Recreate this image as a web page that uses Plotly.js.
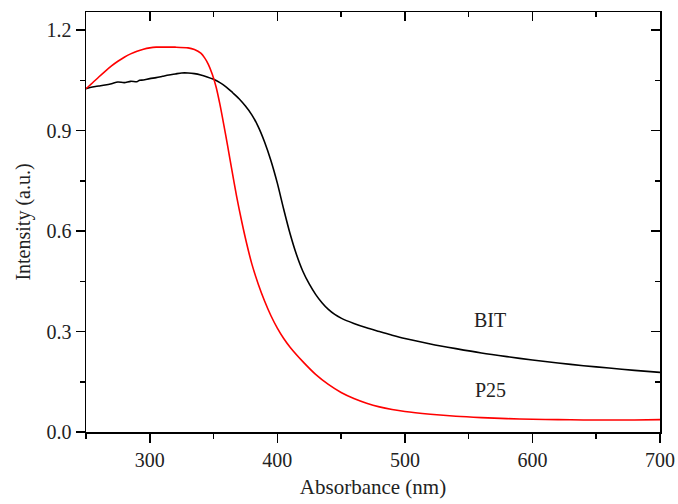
<!DOCTYPE html>
<html>
<head>
<meta charset="utf-8">
<script src="https://cdn.plot.ly/plotly-3.0.1.min.js"></script>
<style>html,body{margin:0;padding:0;background:#fff;}#chart{width:678px;height:504px;}</style>
</head>
<body>
<div id="chart"></div>
<script>
// BIT sample (black)
var bitX = [250,255,260,265,270,275,280,285,290,292,295,300,305,310,315,320,325,330,335,340,345,350,355,360,365,370,375,380,385,390,395,400,405,410,415,420,425,430,435,440,445,450,460,470,480,490,500,520,540,560,580,600,620,640,660,680,700];
var bitY = [1.025,1.030,1.033,1.036,1.040,1.045,1.043,1.047,1.046,1.050,1.051,1.055,1.058,1.062,1.066,1.069,1.072,1.072,1.070,1.066,1.060,1.053,1.043,1.030,1.013,0.995,0.973,0.947,0.912,0.866,0.810,0.743,0.665,0.592,0.530,0.480,0.442,0.411,0.386,0.366,0.351,0.340,0.324,0.311,0.300,0.289,0.279,0.263,0.249,0.236,0.225,0.215,0.206,0.198,0.191,0.184,0.178];

// P25 sample (red)
var p25X = [250,255,260,265,270,275,280,285,290,295,300,305,310,320,330,335,340,343,346,349,352,355,358,361,364,368,372,376,380,385,390,395,400,405,410,420,430,440,450,460,470,480,490,500,520,540,560,580,600,620,640,660,680,700];
var p25Y = [1.025,1.042,1.060,1.077,1.093,1.107,1.119,1.129,1.137,1.143,1.147,1.149,1.149,1.149,1.147,1.142,1.131,1.117,1.097,1.068,1.030,0.978,0.918,0.855,0.790,0.705,0.630,0.562,0.502,0.442,0.391,0.347,0.310,0.279,0.253,0.210,0.172,0.142,0.118,0.100,0.086,0.075,0.067,0.061,0.053,0.047,0.043,0.040,0.038,0.037,0.036,0.036,0.036,0.037];

var labels = [
  {text: 'BIT', x: 567, y: 0.335},
  {text: 'P25', x: 567, y: 0.125}
];

var fontFam = '"Liberation Serif", "Times New Roman", serif';
var xRange = [250, 700];
var yRange = [0, 1.254];

var traces = [
  {x: bitX, y: bitY, type: 'scatter', mode: 'lines', name: 'BIT',
   line: {color: '#000000', width: 1.6, shape: 'spline', smoothing: 0.8}, hoverinfo: 'x+y'},
  {x: p25X, y: p25Y, type: 'scatter', mode: 'lines', name: 'P25',
   line: {color: '#ff0000', width: 1.6, shape: 'spline', smoothing: 0.8}, hoverinfo: 'x+y'},
  {x: [null], y: [null], xaxis: 'x2', yaxis: 'y2', type: 'scatter', mode: 'lines',
   showlegend: false, hoverinfo: 'skip'}
];

var axCommon = {
  showgrid: false, zeroline: false, showline: true,
  linecolor: '#000', linewidth: 1.5,
  tickcolor: '#000', tickwidth: 1.5, ticklen: 9,
  tickfont: {family: fontFam, size: 20, color: '#222'}
};

var layout = {
  width: 678, height: 504,
  margin: {l: 86, r: 18, t: 12, b: 72},
  paper_bgcolor: '#fff', plot_bgcolor: '#fff',
  showlegend: false,
  xaxis: Object.assign({}, axCommon, {
    range: xRange, ticks: 'outside', dtick: 100, tick0: 300,
    minor: {dtick: 50, tick0: 250, ticklen: 5, tickcolor: '#000', tickwidth: 1.5, ticks: 'outside'},
    title: {text: 'Absorbance (nm)', font: {family: fontFam, size: 21, color: '#222'}, standoff: 10}
  }),
  yaxis: Object.assign({}, axCommon, {
    range: yRange, ticks: 'outside', dtick: 0.3, tick0: 0, tickformat: '.1f',
    minor: {dtick: 0.15, tick0: 0, ticklen: 5, tickcolor: '#000', tickwidth: 1.5, ticks: 'outside'},
    title: {text: 'Intensity (a.u.)', font: {family: fontFam, size: 20, color: '#222'}, standoff: 10}
  }),
  xaxis2: Object.assign({}, axCommon, {
    range: xRange, overlaying: 'x', side: 'top', ticks: 'inside', dtick: 100, tick0: 300,
    showticklabels: false,
    minor: {dtick: 50, tick0: 250, ticklen: 5, tickcolor: '#000', tickwidth: 1.5, ticks: 'inside'}
  }),
  yaxis2: Object.assign({}, axCommon, {
    range: yRange, overlaying: 'y', side: 'right', ticks: 'inside', dtick: 0.3, tick0: 0,
    showticklabels: false,
    minor: {dtick: 0.15, tick0: 0, ticklen: 5, tickcolor: '#000', tickwidth: 1.5, ticks: 'inside'}
  }),
  annotations: labels.map(function (l) {
    return {text: l.text, x: l.x, y: l.y, xref: 'x', yref: 'y', showarrow: false,
      font: {family: fontFam, size: 20, color: '#222'}};
  })
};

Plotly.newPlot('chart', traces, layout, {displayModeBar: false, staticPlot: true});
</script>
</body>
</html>
